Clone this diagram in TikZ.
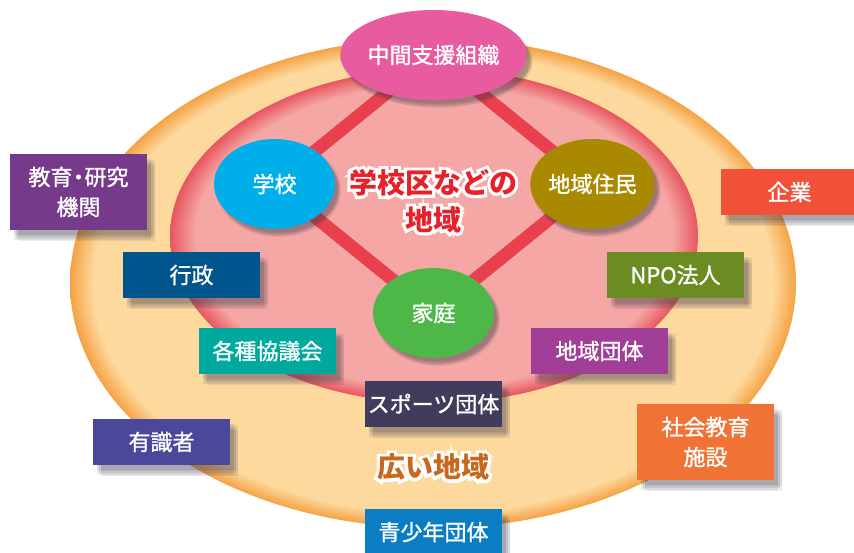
\documentclass[tikz,border=0pt]{standalone}
\usepackage{fontspec}
\setmainfont{Noto Sans CJK JP}[UprightFeatures={FakeBold=1.2}]
\newfontfamily\titleoutline{Noto Sans CJK JP}[BoldFeatures={FakeBold=22}]
\usetikzlibrary{shapes.geometric,shadows}
\definecolor{outerC}{HTML}{FDD99E}
\definecolor{outerR}{HTML}{F5A244}
\definecolor{innerC}{HTML}{F4A7A4}
\definecolor{innerR}{HTML}{E8555F}
\definecolor{linkR}{HTML}{E8404E}
\definecolor{pinkE}{HTML}{E95B9F}
\definecolor{blueE}{HTML}{00AEEA}
\definecolor{oliveE}{HTML}{A88900}
\definecolor{greenE}{HTML}{4DB848}
\definecolor{cEdu}{HTML}{763A8B}
\definecolor{cGov}{HTML}{00558C}
\definecolor{cCouncil}{HTML}{00A99D}
\definecolor{cExpert}{HTML}{4B479B}
\definecolor{cSports}{HTML}{413C5B}
\definecolor{cYouth}{HTML}{0A7DC3}
\definecolor{cCorp}{HTML}{F05138}
\definecolor{cNPO}{HTML}{6A8C22}
\definecolor{cLocal}{HTML}{A13E97}
\definecolor{cSocial}{HTML}{F07335}
\definecolor{cTitle}{HTML}{E6212A}
\definecolor{cWide}{HTML}{C6691E}
\definecolor{shadowC}{HTML}{3A3A4A}
\pgfdeclareradialshading{outerring}{\pgfpoint{0bp}{0bp}}{color(0bp)=(outerC); color(23.4bp)=(outerC); color(25bp)=(outerR); color(50bp)=(outerR)}
\pgfdeclareradialshading{innerring}{\pgfpoint{0bp}{0bp}}{color(0bp)=(innerC); color(22.6bp)=(innerC); color(25bp)=(innerR); color(50bp)=(innerR)}
\pgfdeclarelayer{back}
\pgfdeclarelayer{links}
\pgfsetlayers{back,links,main}
\tikzset{
  softshadow/.style={
    general shadow={fill=shadowC, opacity=0.10, shadow xshift=#1*4pt, shadow yshift=-#1*5pt},
    general shadow={fill=shadowC, opacity=0.10, shadow xshift=#1*8pt, shadow yshift=-#1*11pt},
    general shadow={fill=shadowC, opacity=0.10, shadow xshift=#1*4pt, shadow yshift=-#1*10pt},
    general shadow={fill=shadowC, opacity=0.10, shadow xshift=#1*8pt, shadow yshift=-#1*6pt},
    general shadow={fill=shadowC, opacity=0.14, shadow xshift=#1*6pt, shadow yshift=-#1*8pt}},
  oval/.style={ellipse, minimum width=121pt, minimum height=90pt, inner sep=0pt,
    text=white, font=\fontsize{22}{26}\selectfont, softshadow=0.7},
  tag/.style={rectangle, minimum width=137pt, minimum height=46pt, inner sep=0pt,
    text=white, align=center, font=\fontsize{22}{30}\selectfont, softshadow=1},
  tagtall/.style={tag, minimum height=76pt},
  link/.style={line width=13pt, draw=linkR},
  bigtext/.style={align=center, font=\bfseries\fontsize{28}{37}\selectfont},
  bigglow/.style={align=center, text=white, font=\titleoutline\bfseries\fontsize{28}{37}\selectfont}
}
\begin{document}
\begin{tikzpicture}[x=1pt,y=-1pt]
\useasboundingbox (0,0) rectangle (854,553);
\begin{pgfonlayer}{back}
\path[shading=outerring] (433,283) ellipse [x radius=363, y radius=245];
\path[shading=innerring] (434,236) ellipse [x radius=264, y radius=167];
\end{pgfonlayer}

\node[oval, fill=pinkE, minimum width=151pt] (mid) at (433.5,55) {中間支援組織};
\node[oval, fill=blueE] (school) at (274.5,184) {学校};
\node[oval, fill=oliveE] (resid) at (592.5,184) {地域住民};
\node[oval, fill=greenE] (home) at (433.5,313) {家庭};

\begin{pgfonlayer}{links}
\draw[link] (mid.center) -- (school.center);
\draw[link] (mid.center) -- (resid.center);
\draw[link] (school.center) -- (home.center);
\draw[link] (resid.center) -- (home.center);
\end{pgfonlayer}

\node[bigglow] (areaglow) at (433,201) {学校区などの\\地域};
\node[bigtext, text=cTitle] (area) at (areaglow.center) {学校区などの\\地域};
\node[bigglow] (wideglow) at (433,467) {広い地域};
\node[bigtext, text=cWide] (wide) at (wideglow.center) {広い地域};

\node[tagtall, fill=cEdu] (edu) at (78.5,192) {教育\hspace{-5pt}・\hspace{-5pt}研究\\機関};
\node[tag, fill=cGov] (gov) at (191.5,275) {行政};
\node[tag, fill=cCouncil] (council) at (267.5,351) {各種協議会};
\node[tag, fill=cExpert] (expert) at (161.5,442) {有識者};
\node[tag, fill=cSports] (sports) at (433.5,404) {スポーツ団体};
\node[tag, fill=cYouth] (youth) at (433.5,532) {青少年団体};
\node[tag, fill=cCorp] (corp) at (789.5,192) {企業};
\node[tag, fill=cNPO] (npo) at (675.5,275) {NPO法人};
\node[tag, fill=cLocal] (local) at (599.5,351) {地域団体};
\node[tagtall, fill=cSocial] (social) at (705.5,442) {社会教育\\施設};
\end{tikzpicture}
\end{document}
